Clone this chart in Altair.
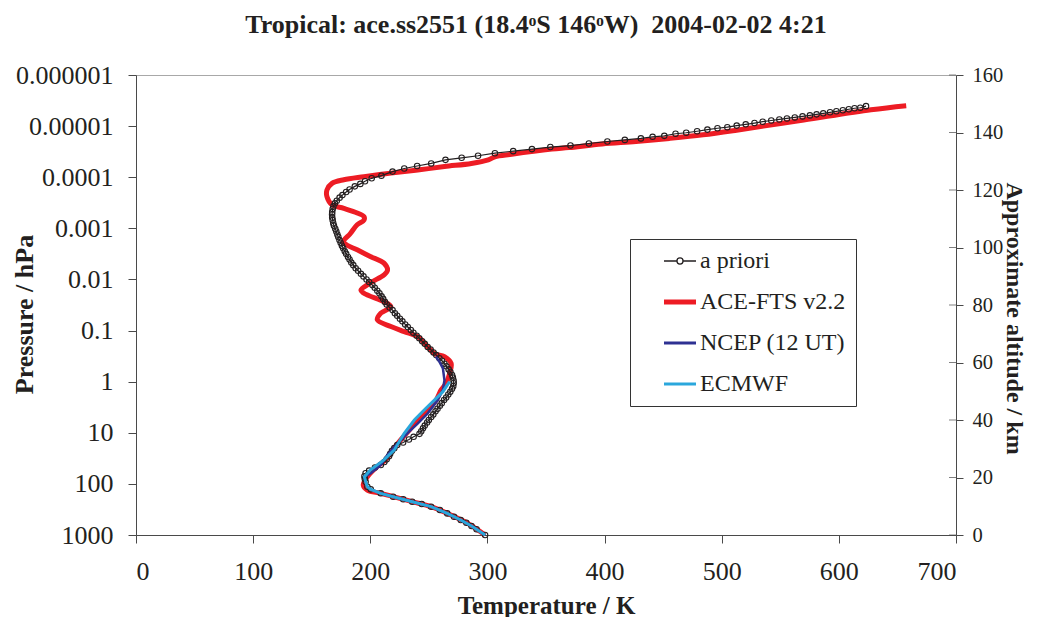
import altair as alt
import pandas as pd

series_names = ["a priori", "ACE-FTS v2.2", "NCEP (12 UT)", "ECMWF"]
series_colors = ["#231f20", "#ed1c24", "#2e3192", "#2aa7dc"]

temp_ticks = [0, 100, 200, 300, 400, 500, 600, 700]
pressure_ticks = [1e-6, 1e-5, 1e-4, 1e-3, 1e-2, 1e-1, 1, 10, 100, 1000]
altitude_ticks = [0, 20, 40, 60, 80, 100, 120, 140, 160]

# a priori profile (markers), bottom to top
apriori_T = [298, 290.7, 286.4, 282, 277.2, 271.5, 265.7, 259.4, 251.9, 243.9, 235.8, 228.1, 219.5, 208.9,
             200.4, 197.5,
             196, 195.3, 195, 196, 199, 204, 209, 212, 214, 216, 217, 218.5, 220.5, 223, 228, 233, 237, 242,
             243.5, 245, 246.5, 248.5, 250, 252, 253.8, 255.7, 257.4, 259.4, 261, 263, 264.8, 266.6, 268.3,
             269.8, 270.8, 271.2,
             271.1, 270.5, 269.8, 268.4, 266.9, 265, 263.3, 261.2, 259, 256.3, 254, 251.5, 249, 246.5, 244.3,
             241.8, 239.6, 236.8, 234.6, 232, 229.8, 227.4, 225.3, 223, 221, 219, 216.5, 214, 212.5, 211,
             209.6, 207.8, 206, 203.8, 201.8, 199, 196.8, 194.2, 192, 189.6, 187.5, 185.5, 183.8, 182.3, 181,
             179.4, 178.2, 176.9, 175.8, 174.7, 173.7, 172.7, 171.9, 171, 170.1, 169, 168.4, 167.9, 167.5,
             167.4, 167.5, 167.9, 168.5, 169.8, 171.4, 173.8, 176.2, 179.4, 182.3, 186.8, 191.5, 195.5,
             201.2, 209.5, 219, 229, 240, 252, 264.2, 278,
             292, 306.4, 322, 338, 353.7, 370.9, 386.6, 402.4, 417.3, 431, 441, 451, 460.6, 469.7,
             479, 487.8, 496.4, 504.8, 512.8, 520.5, 528, 535, 542.3, 549.2, 555.7, 562.4, 569,
             575.3, 581, 586.7, 592.5, 597.9, 603.4, 608.5, 613.4, 618.3, 623.2]
apriori_p = [1000, 774, 667, 574, 509, 439, 378, 324, 279, 248, 223, 200, 178, 153,
             128, 114,
             91.2, 79.4, 70.8, 61.7, 55.0, 47.9, 42.7, 37.2, 33.1, 28.8, 25.7, 22.4, 20.0, 17.4, 15.5, 13.5, 12.0, 10.5,
             9.33, 8.13, 7.24, 6.31, 5.62, 4.90, 4.37, 3.80, 3.39, 2.95, 2.63, 2.29, 2.04, 1.78, 1.58,
             1.38, 1.23, 1.07,
             0.955, 0.832, 0.741, 0.646, 0.575, 0.501, 0.447, 0.389, 0.347, 0.302, 0.269, 0.234, 0.209, 0.182, 0.162,
             0.141, 0.126, 0.110, 0.0977, 0.0851, 0.0759, 0.0661, 0.0589, 0.0513, 0.0457, 0.0398, 0.0355, 0.0309, 0.0275, 0.0240,
             0.0214, 0.0186, 0.0166, 0.0145, 0.0129, 0.0112, 0.0100, 0.00871, 0.00776, 0.00676, 0.00603, 0.00525, 0.00468, 0.00407, 0.00363,
             0.00316, 0.00282, 0.00245, 0.00219, 0.00191, 0.00170, 0.00148, 0.00132, 0.00115, 0.00102, 0.000891, 0.000794, 0.000692, 0.000617,
             0.000537, 0.000479, 0.000417, 0.000372, 0.000324, 0.000288, 0.000251, 0.000224, 0.000195, 0.000174, 0.000151, 0.000135, 0.000120,
             0.000105, 9.33e-5, 7.76e-5, 6.76e-5, 6.03e-5, 5.37e-5, 4.57e-5, 4.17e-5,
             3.80e-5, 3.39e-5, 3.09e-5, 2.82e-5, 2.57e-5, 2.40e-5, 2.19e-5, 2.0e-5, 1.86e-5, 1.74e-5, 1.62e-5, 1.55e-5, 1.41e-5, 1.35e-5,
             1.26e-5, 1.17e-5, 1.10e-5, 1.05e-5, 9.77e-6, 9.23e-6, 8.71e-6, 8.20e-6, 7.76e-6, 7.41e-6, 7.08e-6, 6.76e-6, 6.46e-6,
             6.17e-6, 5.89e-6, 5.62e-6, 5.37e-6, 5.13e-6, 4.90e-6, 4.68e-6, 4.47e-6, 4.37e-6, 4.07e-6]

# ACE-FTS v2.2 retrieval
ace_T = [298, 282, 265.7, 251.9, 235.8, 219.5, 208.9, 197.5, 194, 197.5, 206, 213, 219, 226, 233.3,
         240.4, 249, 256.2, 260.5, 264.8, 267.7, 269, 263.3, 254.8, 249, 240.4, 229, 217.6, 206,
         209, 217.6, 194.6, 192, 200, 211.7, 214.7, 211.7, 200, 188.8, 180.3, 177, 183, 188.8,
         194.6, 194.6, 188.8, 177.4, 167.3, 163, 163, 167.3, 177.4, 194.6, 217.6, 240.5, 263.3,
         286.3, 300.7, 306.4, 320.7, 355, 369.5, 398, 426.8, 455.4, 484, 512.7, 570, 627.4, 657.5]
ace_p = [1000, 574, 378, 279, 223, 178, 153, 132, 105, 72.4, 45.7, 33.9, 21.9, 13.8, 8.83,
         5.62, 3.59, 2.29, 1.45, 1.07, 0.692, 0.437, 0.324, 0.282, 0.207, 0.132, 0.105, 0.0832, 0.0617,
         0.0457, 0.0339, 0.0186, 0.0162, 0.0117, 0.00813, 0.00661, 0.00479, 0.00355, 0.00263, 0.00214, 0.00182, 0.00126, 0.000851,
         0.000692, 0.000589, 0.000501, 0.000407, 0.000347, 0.00024, 0.000178, 0.000132, 0.000112, 9.77e-5, 8.32e-5, 7.24e-5, 6.17e-5,
         5.37e-5, 4.57e-5, 3.98e-5, 3.55e-5, 2.82e-5, 2.63e-5, 2.24e-5, 2.0e-5, 1.74e-5, 1.48e-5, 1.20e-5, 7.59e-6, 4.79e-6, 3.98e-6]

# NCEP (12 UT) analysis
ncep_T = [298, 286.4, 277.2, 265.7, 251.9, 235.8, 219.5, 208.9, 200.4, 197.5, 196, 195, 200.4, 209,
          214.7, 223.3, 231.8, 240.4, 249, 257.6, 262, 263.3, 262, 259, 256]
ncep_p = [1000, 667, 509, 378, 279, 223, 178, 153, 128, 114, 90.6, 72.3, 61.7, 42.7,
          26.9, 16.2, 10.2, 6.61, 4.17, 2.29, 1.45, 0.933, 0.55, 0.407, 0.324]

# ECMWF analysis
ecmwf_T = [298, 286.4, 277.2, 265.7, 251.9, 235.8, 219.5, 208.9, 200.4, 197.5, 196, 195, 200, 211.7,
           220.4, 229, 237.6, 246, 254.7, 262, 267.7]
ecmwf_p = [1000, 667, 509, 378, 279, 223, 178, 153, 128, 114, 90.6, 72.3, 53.7, 33.9,
           21.9, 10.2, 5.62, 3.59, 2.29, 1.57, 1.0]


def frame(name, T, p):
    return pd.DataFrame({"series": name, "T": T, "p": p, "i": list(range(len(T)))})


df_apriori = frame(series_names[0], apriori_T, apriori_p)
df_ace = frame(series_names[1], ace_T, ace_p)
df_ncep = frame(series_names[2], ncep_T, ncep_p)
df_ecmwf = frame(series_names[3], ecmwf_T, ecmwf_p)
df_alt = pd.DataFrame({"alt": altitude_ticks})

W, H = 820, 460
FONT = "Liberation Serif"
INK = "#231f20"
AXC = "#4a4a4a"

x_enc = alt.X("T:Q", scale=alt.Scale(domain=[0, 700], nice=False, zero=False),
              axis=alt.Axis(values=temp_ticks, title="Temperature / K", labelPadding=15,
                            titleY=78, titleBaseline="alphabetic", titleFontSize=25))
y_enc = alt.Y("p:Q", scale=alt.Scale(type="log", domain=[1e-6, 1000], reverse=True, nice=False),
              axis=alt.Axis(values=pressure_ticks, format="~g", title="Pressure / hPa",
                            labelPadding=15, titleX=-112, titleY=239, titleBaseline="middle",
                            titleAlign="center", titleAngle=-90))

apriori_path = "M-1,0L-0.19,0M0.19,0L1,0M0.19,0A0.19,0.19,0,1,1,-0.19,0A0.19,0.19,0,1,1,0.19,0"
color_enc = alt.Color(
    "series:N",
    scale=alt.Scale(domain=series_names, range=series_colors),
    legend=alt.Legend(
        title=None, orient="none", legendX=494, legendY=164,
        symbolType=alt.ExprRef(expr="datum.value === 'a priori' ? '" + apriori_path + "' : 'stroke'"),
        symbolStrokeWidth=alt.ExprRef(expr="datum.value === 'ACE-FTS v2.2' ? 5 : (datum.value === 'a priori' ? 1.3 : 3)"),
        symbolSize=1024, symbolFillColor="white", symbolOffset=28,
        labelFont=FONT, labelFontSize=24, labelColor=INK, labelOffset=8,
        rowPadding=17, padding=10, strokeColor="#333333", fillColor="white",
        labelLimit=400,
    ),
)


def line_layer(df, width, interp="linear"):
    return alt.Chart(df).mark_line(strokeWidth=width, interpolate=interp).encode(
        x=x_enc, y=y_enc, color=color_enc, order="i:Q")


ace = line_layer(df_ace, 5, "catmull-rom")
apri_line = line_layer(df_apriori, 1.2)
apri_pts = alt.Chart(df_apriori).mark_point(shape="circle", filled=False, size=30, strokeWidth=1.1,
                                            color=INK, opacity=1).encode(x=x_enc, y=y_enc)
ncep = line_layer(df_ncep, 2.5)
ecmwf = line_layer(df_ecmwf, 3)

pressure = alt.layer(ace, apri_line, apri_pts, ncep, ecmwf)

right = alt.Chart(df_alt).mark_tick(size=7, thickness=1, color=AXC).encode(
    y=alt.Y("alt:Q", scale=alt.Scale(domain=[0, 160], nice=False, zero=True),
            axis=alt.Axis(orient="right", values=altitude_ticks, title="Approximate altitude / km",
                          labelFontSize=20.5, tickSize=7, labelPadding=9, titleFontSize=24,
                          titleX=57, titleY=243, titleAngle=90, titleBaseline="middle",
                          titleAlign="center")),
    x=alt.value(W - 3.5),
)

chart = alt.layer(pressure, right).resolve_scale(y="independent").properties(
    width=W, height=H,
    padding={"left": 128, "top": 67, "right": 73, "bottom": 82},
    autosize=alt.AutoSizeParams(type="none"),
    title=alt.TitleParams(
        text="Tropical: ace.ss2551 (18.4\u1d52S 146\u1d52W) \u00a02004-02-02 4:21",
        font=FONT, fontSize=26, fontWeight="bold", color=INK, anchor="middle", offset=24, dx=-10),
).configure_view(stroke="#a8a8a8", strokeWidth=1).configure_axis(
    labelFont=FONT, labelFontSize=26, labelColor=INK, domainColor=AXC, tickColor=AXC,
    tickSize=8, grid=False, titleFont=FONT, titleFontSize=26, titleFontWeight="bold", titleColor=INK,
)

chart.save("out.html", embed_options={"renderer": "svg", "actions": False})
